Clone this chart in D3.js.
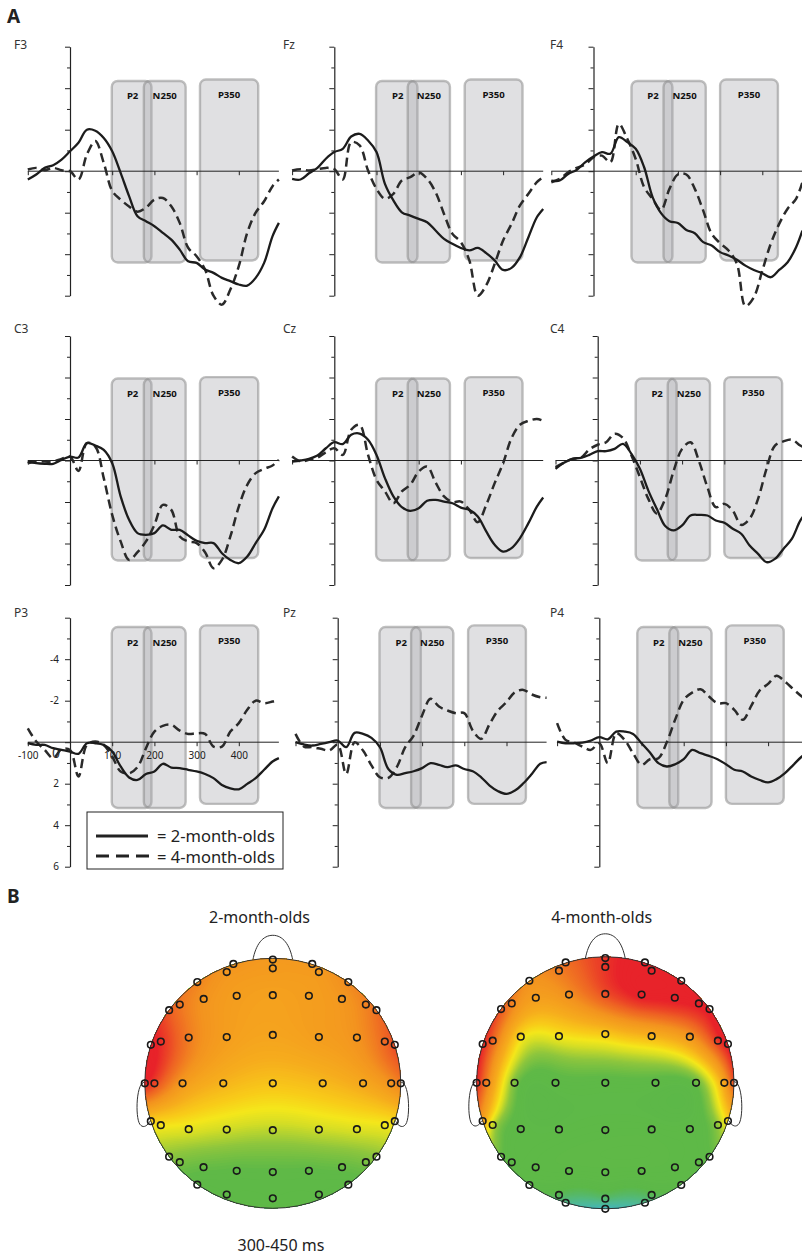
<!DOCTYPE html>
<html>
<head>
<meta charset="utf-8">
<title>ERP waveforms and topographies</title>
<script src="https://cdn.jsdelivr.net/npm/d3@7/dist/d3.min.js"></script>
<style>
  body { margin: 0; background: #fff; }
  svg { display: block; }
  text { font-family: "Noto Sans", "Open Sans", sans-serif; fill: #222; }
</style>
</head>
<body>
<svg id="fig" width="802" height="1256"></svg>
<script>
// ---------- data: ERP waveforms (µV, negative up) ----------
const sites = ["F3", "Fz", "F4", "C3", "Cz", "C4", "P3", "Pz", "P4"];
const times = [-100, -80, -60, -40, -20, 0, 20, 40, 60, 80, 100, 120, 140, 160, 180, 200,
               220, 240, 260, 280, 300, 320, 340, 360, 380, 400, 420, 440, 460, 480, 495];

const F3_2mo = [0.4, 0.16, -0.16, -0.29, -0.56, -0.96, -1.37, -2.0, -1.95, -1.6, -0.96, 0.08, 1.2, 2.17, 2.41, 2.65, 2.97, 3.3, 3.78, 4.34, 4.42, 4.74, 4.9, 5.14, 5.3, 5.46, 5.51, 5.14, 4.42, 3.13, 2.49];
const F3_4mo = [-0.08, -0.16, -0.05, -0.16, -0.05, 0, 0.4, -0.8, -1.45, -0.4, 0.95, 1.37, 1.7, 1.95, 1.76, 1.37, 1.29, 1.69, 2.49, 3.69, 4.1, 4.74, 6.0, 6.43, 5.7, 4.58, 2.97, 2.0, 1.45, 0.72, 0.4];
const Fz_2mo = [0.37, 0.4, 0.1, -0.16, -0.6, -0.92, -1.08, -1.67, -1.8, -1.48, -0.92, 0.61, 1.41, 1.98, 2.14, 2.3, 2.46, 2.86, 3.26, 3.5, 3.7, 3.82, 3.7, 3.95, 4.3, 4.76, 4.66, 4.14, 3.18, 2.22, 1.82];
const Fz_4mo = [-0.03, -0.1, -0.03, -0.1, -0.16, -0.1, 0.4, -1.4, -1.24, -0.03, 0.85, 1.33, 1.09, 0.45, 0.29, 0.05, 0.37, 1.01, 2.06, 3.02, 3.42, 4.3, 6.0, 5.5, 4.47, 3.34, 2.54, 1.65, 1.09, 0.53, 0.29];
const F4_2mo = [0.45, 0.45, 0.13, -0.06, -0.43, -0.71, -0.92, -0.84, -1.64, -1.4, -1.08, -0.19, 1.25, 2.02, 2.41, 2.5, 2.83, 2.99, 3.42, 3.58, 3.9, 4.06, 4.27, 4.55, 4.76, 4.92, 5.11, 4.76, 4.39, 3.66, 2.86];
const F4_4mo = [0.53, 0.37, 0.05, -0.16, -0.32, -0.67, -0.75, -0.43, -2.28, -1.56, -0.59, 0.77, 1.33, 1.87, 0.85, 0.16, 0.16, 0.85, 1.9, 3.02, 3.47, 3.82, 4.47, 6.5, 6.07, 4.79, 3.5, 2.54, 1.81, 1.33, 0.53];
const C3_2mo = [0.05, 0.13, 0.16, 0.16, -0.03, -0.19, -0.14, -0.84, -0.72, -0.51, 0.13, 1.73, 2.86, 3.5, 3.58, 3.5, 3.13, 3.34, 3.34, 3.61, 3.87, 3.98, 3.98, 4.47, 4.79, 4.95, 4.63, 3.98, 3.34, 2.3, 1.73];
const C3_4mo = [0.13, 0.05, 0.05, 0.05, -0.08, -0.19, 0.5, -0.84, -0.67, 0.85, 2.62, 3.9, 4.79, 4.42, 3.9, 3.1, 2.14, 2.38, 3.66, 3.9, 3.98, 4.42, 5.19, 4.79, 3.66, 2.22, 1.17, 0.61, 0.4, 0.24, -0.03];
const Cz_2mo = [0.05, 0, -0.08, -0.24, -0.59, -0.88, -0.79, -1.24, -1.3, -1.0, -0.27, 0.85, 1.73, 2.25, 2.43, 2.3, 1.94, 1.9, 1.98, 2.06, 2.27, 2.38, 2.7, 3.42, 4.06, 4.39, 4.22, 3.74, 3.02, 2.22, 1.78];
const Cz_4mo = [-0.19, 0.05, -0.03, -0.14, -0.4, -0.59, -0.27, -1.48, -1.72, -0.27, 0.93, 1.49, 2.06, 1.49, 1.17, 0.53, 0.29, 1.06, 1.73, 2.0, 1.98, 2.38, 2.97, 2.14, 1.09, 0.13, -1.08, -1.72, -1.91, -2.0, -1.91];
const C4_2mo = [0.4, 0.11, -0.08, -0.13, -0.27, -0.45, -0.45, -0.56, -0.8, -0.32, 0.4, 1.45, 2.33, 3.16, 3.37, 3.13, 2.65, 2.62, 2.65, 2.89, 3.0, 3.29, 3.53, 4.1, 4.5, 4.9, 4.74, 4.26, 3.78, 2.9, 2.49];
const C4_4mo = [0.32, 0.11, -0.08, -0.13, -0.53, -0.76, -0.88, -1.29, -1.08, -0.24, 0.8, 1.85, 2.55, 1.85, 0.5, -0.56, -0.88, 0.03, 1.29, 2.25, 2.09, 2.41, 3.1, 2.81, 1.85, 0.4, -0.72, -0.92, -1.01, -0.72, -0.56];
const P3_2mo = [0.05, 0.13, 0.13, 0.29, 0.37, 0.45, 0.56, 0.05, 0.05, 0.13, 0.45, 1.17, 1.7, 1.82, 1.53, 1.41, 1.04, 1.22, 1.25, 1.33, 1.41, 1.53, 1.73, 2.06, 2.22, 2.27, 2.01, 1.73, 1.33, 0.93, 0.77];
const P3_4mo = [-0.67, -0.03, 0.37, 0.77, 0.34, 0.37, 1.65, 0.13, -0.03, 0.13, 0.69, 1.41, 1.5, 1.2, 0.29, -0.51, -0.79, -0.84, -0.56, -0.4, -0.43, -0.4, 0.21, 0.21, -0.51, -0.92, -1.56, -2.0, -1.88, -1.96, -2.04];
const Pz_2mo = [0, 0.11, 0.16, 0.08, 0, -0.08, 0.24, -0.45, -0.4, -0.21, 0.24, 1.29, 1.57, 1.49, 1.4, 1.25, 1.01, 1.09, 1.2, 1.12, 1.29, 1.4, 1.69, 2.09, 2.36, 2.49, 2.33, 1.98, 1.53, 1.04, 0.96];
const Pz_4mo = [-0.4, 0.21, 0.24, 0.32, 0.4, 0.11, 1.53, 0, 0.4, 1.12, 1.69, 1.72, 1.2, 0.24, -0.32, -1.29, -2.09, -1.72, -1.53, -1.4, -1.4, -0.56, -0.16, -0.88, -1.53, -1.93, -2.41, -2.52, -2.3, -2.17, -2.14];
const P4_2mo = [-0.03, 0.05, 0.05, 0.02, -0.08, -0.24, -0.14, -0.51, -0.51, -0.4, 0.05, 0.5, 1.01, 1.17, 1.06, 0.82, 0.37, 0.53, 0.66, 0.82, 1.06, 1.33, 1.41, 1.65, 1.82, 1.94, 1.78, 1.49, 1.09, 0.69, 0.5];
const P4_4mo = [-0.92, -0.11, 0.02, 0.21, 0.37, 0.05, 1.01, -0.43, -0.11, 0.53, 1.09, 0.82, 0.77, 0.0, -1.1, -2.04, -2.39, -2.55, -2.2, -1.88, -1.88, -1.56, -1.08, -1.75, -2.49, -2.81, -3.2, -2.92, -2.55, -2.2, -2.0];

// analysis windows (ms, per column) and their vertical extent (µV, per row)
const windowNames = ["P2", "N250", "P350"];
const windowStart = [[99, 175, 308], [99, 174, 309], [90, 166, 300]];
const windowEnd = [[193, 274, 446], [197, 274, 446], [187, 266, 437]];
const windowTop = [[-4.35, -4.35, -4.42], [-3.95, -3.95, -4.02], [-5.55, -5.55, -5.63]];
const windowBottom = [[4.4, 4.4, 4.3], [4.82, 4.82, 4.7], [3.17, 3.17, 2.97]];

const yMajorTicks = [-6, -4, -2, 0, 2, 4, 6];
const yMinorTicks = [-5, -3, -1, 1, 3, 5];
const xTicks = [-100, 100, 200, 300, 400];
const groupLabels = ["2-month-olds", "4-month-olds"];

// ---------- data: topographies, 300-450 ms ----------
const elecX = [0, 0, -0.308, 0.308, -0.36, 0.36, -0.59, 0.59, -0.54, -0.282, 0, 0.282, 0.54,
  -0.81, -0.727, 0.727, 0.81, -0.953, -0.875, -0.657, -0.36, 0, 0.36, 0.657, 0.875, 0.953,
  -1.0, -0.925, -0.705, -0.387, 0, 0.39, 0.705, 0.925, 1.0,
  -0.953, -0.875, -0.657, -0.36, 0, 0.36, 0.657, 0.875, 0.953,
  -0.81, -0.727, -0.541, -0.282, 0, 0.282, 0.541, 0.727, 0.81,
  -0.59, 0.59, -0.36, 0, 0.36, -0.308, 0, 0.308];
const elecY = [-0.99, -0.92, -0.955, -0.955, -0.89, -0.89, -0.81, -0.81, -0.675, -0.7, -0.705, -0.7, -0.675,
  -0.585, -0.63, -0.63, -0.585, -0.308, -0.334, -0.366, -0.37, -0.387, -0.37, -0.366, -0.334, -0.308,
  0, 0, 0, 0, 0, 0, 0, 0, 0,
  0.303, 0.335, 0.367, 0.37, 0.375, 0.37, 0.367, 0.335, 0.303,
  0.587, 0.631, 0.671, 0.7, 0.71, 0.7, 0.671, 0.631, 0.587,
  0.811, 0.811, 0.89, 0.92, 0.89, 0.952, 1.0, 0.952];
const topo2mo = [1.5, 1.5, 1.6, 1.55, 1.55, 1.5, 1.75, 1.7, 1.6, 1.45, 1.4, 1.45, 1.55,
  2.05, 1.85, 1.75, 1.9, 2.5, 2.35, 1.8, 1.45, 1.35, 1.45, 1.6, 1.95, 2.15,
  2.45, 2.2, 1.5, 1.15, 1.0, 1.1, 1.3, 1.6, 1.8,
  0.9, 0.78, 0.65, 0.55, 0.48, 0.55, 0.62, 0.72, 0.82,
  0.3, 0.2, 0.1, 0.05, 0.05, 0.05, 0.1, 0.2, 0.3,
  0.0, 0.0, 0.0, 0.0, 0.0];
const topo4mo = [2.3, 2.3, 1.9, 2.5, 1.8, 2.5, 1.6, 2.5, 1.45, 1.65, 2.15, 2.5, 2.5,
  2.1, 1.75, 2.5, 2.5, 2.4, 2.0, 0.8, 0.75, 0.95, 1.15, 1.55, 2.3, 2.5,
  2.4, 1.8, 0.2, 0.0, 0.0, 0.0, 0.1, 1.3, 2.2,
  1.45, 0.45, 0.0, -0.05, 0.0, 0.0, 0.0, 0.3, 0.9,
  0.1, 0.0, 0.0, 0.0, 0.0, 0.0, 0.0, 0.0, 0.05,
  -0.1, -0.1, -0.25, -0.35, -0.25, -0.55, -0.9, -0.55];
const topoStops = [-1.0, -0.6, -0.2, 0.05, 0.3, 0.55, 0.72, 0.9, 1.2, 1.6, 2.0, 2.4];
const topoColors = ["#3bb3cf", "#4fb994", "#5cb848", "#5fb947", "#8ec63d", "#d3dd26", "#f4e71b",
                    "#f8cd19", "#f6ad1d", "#f3931f", "#ee6224", "#e8232a"];

const twoMonth = { F3: F3_2mo, Fz: Fz_2mo, F4: F4_2mo, C3: C3_2mo, Cz: Cz_2mo, C4: C4_2mo, P3: P3_2mo, Pz: Pz_2mo, P4: P4_2mo };
const fourMonth = { F3: F3_4mo, Fz: Fz_4mo, F4: F4_4mo, C3: C3_4mo, Cz: Cz_4mo, C4: C4_4mo, P3: P3_4mo, Pz: Pz_4mo, P4: P4_4mo };

// ---------- layout ----------
const svg = d3.select("#fig");
const panelX0 = [70, 334.3, 593.5, 70, 334.3, 597.7, 70, 337.7, 599.3];
const rowY0 = [171.2, 460.5, 742.2];
const nameBase = [49, 333, 617];
const nameX = [14, 283, 550];
const pxPerMs = 0.422, pxPerUv = 20.75;

svg.append("text").attr("x", 7).attr("y", 23).attr("font-size", 19).attr("font-weight", "bold").text("A");
svg.append("text").attr("x", 7).attr("y", 903).attr("font-size", 19).attr("font-weight", "bold").text("B");

sites.forEach((site, i) => {
  const row = Math.floor(i / 3), col = i % 3;
  const x0 = panelX0[i], y0 = rowY0[row];
  const x = d3.scaleLinear().domain([-100, 500]).range([x0 - 100 * pxPerMs, x0 + 500 * pxPerMs]);
  const y = d3.scaleLinear().domain([-6, 6]).range([y0 - 6 * pxPerUv, y0 + 6 * pxPerUv]);
  const g = svg.append("g");

  // analysis windows
  windowNames.forEach((w, k) => {
    const x1 = x(windowStart[col][k]), x2 = x(windowEnd[col][k]);
    const yt = y(windowTop[row][k]), yb = y(windowBottom[row][k]);
    g.append("rect")
      .attr("x", x1).attr("y", yt).attr("width", x2 - x1).attr("height", yb - yt)
      .attr("rx", 6).attr("fill", "#a5a7ac").attr("fill-opacity", 0.35)
      .attr("stroke", "#8c8c8c").attr("stroke-opacity", 0.55).attr("stroke-width", 2.4);
  });
  windowNames.forEach((w, k) => {
    const cx = (x(windowStart[col][k]) + x(windowEnd[col][k])) / 2;
    g.append("text")
      .attr("x", k === 0 ? cx + 1 : cx).attr("y", y(windowTop[row][k]) + 18.5)
      .attr("text-anchor", "middle").attr("font-family", "DejaVu Sans")
      .attr("font-weight", "bold").attr("font-size", 9.6).style("fill", "#111")
      .text(w);
  });

  // axes
  const showLabels = site === "P3";
  g.append("g").attr("transform", `translate(${x0},0)`).attr("color", "#222")
    .call(d3.axisLeft(y).tickValues(yMinorTicks).tickSize(3).tickFormat(""))
    .call(s => s.select(".domain").remove());
  g.append("g").attr("transform", `translate(${x0},0)`).attr("color", "#222")
    .attr("font-size", 14).attr("font-family", "Noto Sans")
    .call(d3.axisLeft(y).tickValues(yMajorTicks).tickSize(5).tickSizeOuter(0).tickPadding(6)
      .tickFormat(d => (showLabels && d !== -6 && d !== 0) ? String(d) : ""))
    .call(s => s.select(".domain").attr("stroke-width", 1.2));
  g.append("g").attr("transform", `translate(0,${y0})`).attr("color", "#222")
    .attr("font-size", 14).attr("font-family", "Noto Sans")
    .call(d3.axisBottom(x).tickValues(xTicks).tickSize(4).tickSizeOuter(0).tickPadding(6)
      .tickFormat(d => showLabels ? String(d) : ""))
    .call(s => s.select(".domain").remove());
  g.append("line").attr("x1", x(-100)).attr("x2", x(495)).attr("y1", y0).attr("y2", y0)
    .attr("stroke", "#222").attr("stroke-width", 1);
  if (showLabels) {
    g.append("text").attr("x", x0 - 10).attr("y", y0 + 16).attr("text-anchor", "end")
      .attr("font-size", 14).style("fill", "#333").text("0");
  }

  // site name
  g.append("text").attr("x", nameX[col]).attr("y", nameBase[row])
    .attr("font-size", 12).attr("font-family", "Open Sans").style("fill", "#333").text(site);

  // waveforms
  const line = d3.line().x((d, j) => x(times[j])).y(d => y(d)).curve(d3.curveCatmullRom.alpha(0.5));
  g.append("path").datum(fourMonth[site]).attr("d", line).attr("fill", "none")
    .attr("stroke", "#2a2a2a").attr("stroke-width", 2.5).attr("stroke-dasharray", "9,5");
  g.append("path").datum(twoMonth[site]).attr("d", line).attr("fill", "none")
    .attr("stroke", "#1c1c1c").attr("stroke-width", 2.3);
});

// legend
const lg = svg.append("g");
lg.append("rect").attr("x", 87).attr("y", 812).attr("width", 196).attr("height", 57)
  .attr("fill", "#fff").attr("stroke", "#222").attr("stroke-width", 1);
lg.append("line").attr("x1", 96).attr("x2", 148).attr("y1", 836).attr("y2", 836)
  .attr("stroke", "#222").attr("stroke-width", 3);
lg.append("line").attr("x1", 96).attr("x2", 150).attr("y1", 856).attr("y2", 856)
  .attr("stroke", "#222").attr("stroke-width", 3).attr("stroke-dasharray", "13,7");
groupLabels.forEach((t, k) => {
  lg.append("text").attr("x", 157).attr("y", 842 + k * 20.5).attr("font-size", 16.5)
    .style("fill", "#222").text("= " + t);
});

// ---------- topographies ----------
function thinPlate(px, py, vals, lambda) {
  const n = px.length, m = n + 3;
  const U = r => r < 1e-12 ? 0 : r * r * Math.log(r);
  const A = [];
  for (let i = 0; i < m; i++) A.push(new Float64Array(m + 1));
  for (let i = 0; i < n; i++) {
    for (let j = 0; j < n; j++) A[i][j] = U(Math.hypot(px[i] - px[j], py[i] - py[j])) + (i === j ? lambda : 0);
    A[i][n] = 1; A[i][n + 1] = px[i]; A[i][n + 2] = py[i];
    A[n][i] = 1; A[n + 1][i] = px[i]; A[n + 2][i] = py[i];
    A[i][m] = vals[i];
  }
  for (let c = 0; c < m; c++) {
    let p = c;
    for (let r = c + 1; r < m; r++) if (Math.abs(A[r][c]) > Math.abs(A[p][c])) p = r;
    const tmp = A[c]; A[c] = A[p]; A[p] = tmp;
    for (let r = 0; r < m; r++) {
      if (r === c) continue;
      const f = A[r][c] / A[c][c];
      if (f === 0) continue;
      for (let k = c; k <= m; k++) A[r][k] -= f * A[c][k];
    }
  }
  const w = A.map((rowv, i) => rowv[m] / rowv[i]);
  return (x, y) => {
    let s = w[n] + w[n + 1] * x + w[n + 2] * y;
    for (let i = 0; i < n; i++) s += w[i] * U(Math.hypot(x - px[i], y - py[i]));
    return s;
  };
}

const topoColor = d3.scaleLinear().domain(topoStops).range(topoColors).clamp(true);
const heads = [
  { cx: 272.8, cy: 1083.3, rx: 128, ry: 125, vals: topo2mo, title: groupLabels[0], tx: 259.5 },
  { cx: 605.3, cy: 1082.8, rx: 128.7, ry: 126, vals: topo4mo, title: groupLabels[1], tx: 601.7 }
];
const defs = svg.append("defs");

heads.forEach((h, hi) => {
  const n = h.vals.length;
  const ex = elecX.slice(0, n), ey = elecY.slice(0, n);
  const f = thinPlate(ex, ey, h.vals, 0.004);
  const N = 150, lo = -1.04, step = 2.08 / N;
  const grid = new Float64Array(N * N);
  for (let j = 0; j < N; j++) {
    for (let i = 0; i < N; i++) grid[j * N + i] = f(lo + (i + 0.5) * step, lo + (j + 0.5) * step);
  }
  const thresholds = d3.range(-1.2, 2.8, 0.025);
  const bands = d3.contours().size([N, N]).thresholds(thresholds)(grid);
  const proj = d3.geoTransform({
    point(px, py) { this.stream.point(h.cx + (lo + px * step) * h.rx, h.cy + (lo + py * step) * h.ry); }
  });
  const path = d3.geoPath(proj);

  defs.append("clipPath").attr("id", "head" + hi)
    .append("ellipse").attr("cx", h.cx).attr("cy", h.cy).attr("rx", h.rx).attr("ry", h.ry);

  const g = svg.append("g");
  const top = h.cy - h.ry, left = h.cx - h.rx, right = h.cx + h.rx;
  // nose and ears
  g.append("path")
    .attr("d", `M${h.cx - 20},${top + 2} C${h.cx - 17},${top - 14} ${h.cx - 10},${top - 23} ${h.cx},${top - 23}` +
               ` C${h.cx + 10},${top - 23} ${h.cx + 17},${top - 14} ${h.cx + 20},${top + 2}`)
    .attr("fill", "none").attr("stroke", "#333").attr("stroke-width", 1);
  [[left, -1], [right, 1]].forEach(([ex0, s]) => {
    g.append("path")
      .attr("d", `M${ex0},${h.cy - 1} C${ex0 + s * 9},${h.cy - 2} ${ex0 + s * 10},${h.cy + 38} ${ex0 + s * 4},${h.cy + 42}` +
                 ` C${ex0 + s * 1},${h.cy + 45} ${ex0 - s * 3},${h.cy + 42} ${ex0 - s * 5},${h.cy + 38}`)
      .attr("fill", "none").attr("stroke", "#333").attr("stroke-width", 1);
  });

  const mapG = g.append("g").attr("clip-path", `url(#head${hi})`);
  mapG.append("ellipse").attr("cx", h.cx).attr("cy", h.cy).attr("rx", h.rx).attr("ry", h.ry)
    .attr("fill", topoColor(-1.2));
  mapG.selectAll("path").data(bands).join("path")
    .attr("d", path).attr("fill", d => topoColor(d.value));

  g.append("ellipse").attr("cx", h.cx).attr("cy", h.cy).attr("rx", h.rx).attr("ry", h.ry)
    .attr("fill", "none").attr("stroke", "#333").attr("stroke-width", 1);

  g.selectAll("circle.el").data(d3.range(n)).join("circle").attr("class", "el")
    .attr("cx", k => h.cx + ex[k] * h.rx).attr("cy", k => h.cy + ey[k] * h.ry).attr("r", 3.3)
    .attr("fill", "none").attr("stroke", "#1a1a1a").attr("stroke-width", 1.6);

  svg.append("text").attr("x", h.tx).attr("y", 923).attr("text-anchor", "middle")
    .attr("font-size", 16).style("fill", "#222").text(h.title);
});

svg.append("text").attr("x", 281).attr("y", 1251).attr("text-anchor", "middle")
  .attr("font-size", 16).style("fill", "#222").text("300-450 ms");
</script>
</body>
</html>
